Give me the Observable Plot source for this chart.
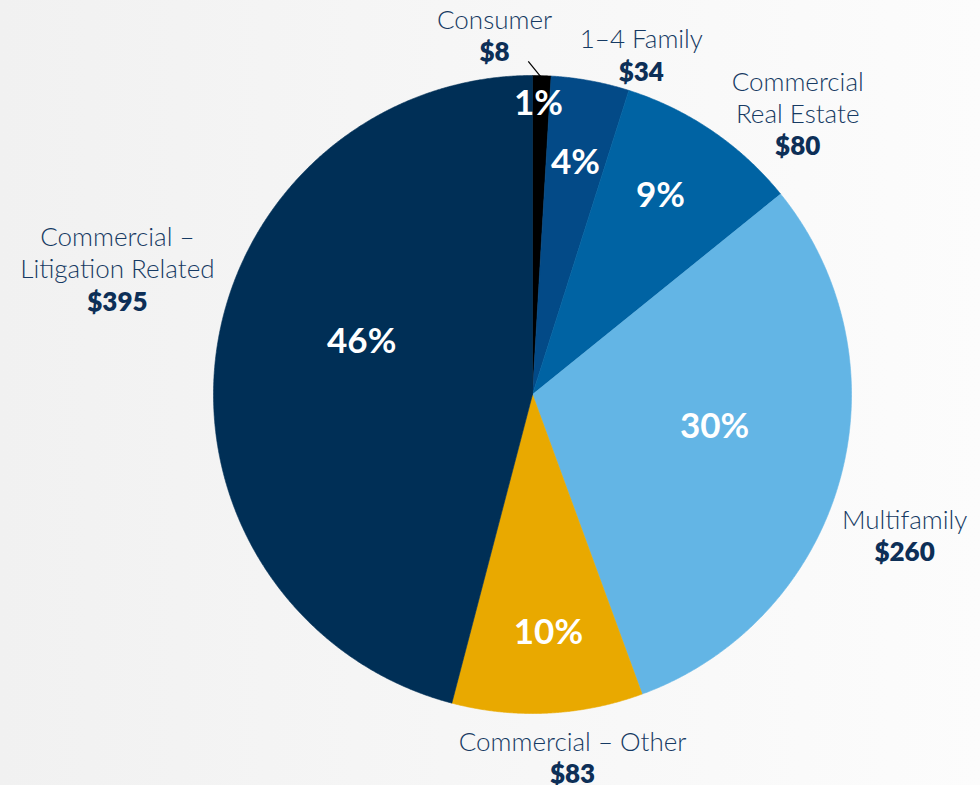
<!DOCTYPE html>
<html><head><meta charset="utf-8">
<script src="https://cdn.jsdelivr.net/npm/d3@7"></script>
<script src="https://cdn.jsdelivr.net/npm/@observablehq/plot@0.6"></script>
<style>
html,body{margin:0;padding:0;}
body{width:980px;height:785px;background:linear-gradient(90deg,#f1f1f1 0%,#fcfcfc 100%);overflow:hidden;}
#chart svg{display:block;background:transparent;}
</style></head><body><div id="chart"></div>
<script>
// ---- data ----
const categories = ["Consumer","1–4 Family","Commercial Real Estate","Multifamily","Commercial – Other","Commercial – Litigation Related"];
const nameLines = ["Consumer","1–4 Family","Commercial\nReal Estate","Multifamily","Commercial – Other","Commercial –\nLitigation Related"];
const values = [8,34,80,260,83,395];
const colors = ["#000000","#034a87","#0063a3","#63b5e5","#e9a900","#002f56"];

// ---- label layout (polar: radius fraction, angle shift from slice middle in degrees) ----
const pctRadius = [0.91,0.74,0.74,0.58,0.75,0.56];
const pctAngleShift = [-0.5,0,-1.5,-5.3,-1.1,9.7];
const valRadius = [1.078,1.066,1.138,1.268,1.198,1.333];
const valAngleShift = [-8.0,8.2,12.6,7.6,-3.3,5.2];
const leaderStart = [[0.997,-0.2]]; // [radius, angle shift] for Consumer
const leaderEnd = [[1.044,-2.4]];

const total = d3.sum(values);
const cum = d3.cumsum(values);
const slices = categories.map((c, i) => {
  const start = (cum[i] - values[i]) / total * 360;
  const end = cum[i] / total * 360;
  return {category: c, name: nameLines[i], value: values[i], color: colors[i], start, end, mid: (start + end) / 2, i};
});
const rad = a => a * Math.PI / 180;
const polar = (r, a) => [r * Math.sin(rad(a)), r * Math.cos(rad(a))];

// slice polygons
const pts = [];
for (const s of slices) {
  pts.push({k: s.category, color: s.color, x: 0, y: 0});
  const n = Math.max(2, Math.ceil((s.end - s.start) / 0.25));
  for (let j = 0; j <= n; j++) {
    const a = s.start + (s.end - s.start) * j / n;
    const [x, y] = polar(1, a);
    pts.push({k: s.category, color: s.color, x, y});
  }
  pts.push({k: s.category, color: s.color, x: 0, y: 0});
}

const pctLabels = slices.map(s => {
  const [x, y] = polar(pctRadius[s.i], s.mid + pctAngleShift[s.i]);
  return {x, y, text: Math.round(s.value / total * 100) + "%"};
});
const outLabels = slices.map(s => {
  const [x, y] = polar(valRadius[s.i], s.mid + valAngleShift[s.i]);
  return {x, y, name: s.name, val: "$" + s.value};
});
const leaders = leaderStart.map((st, i) => {
  const s = slices[i];
  const [x1, y1] = polar(st[0], s.mid + st[1]);
  const [x2, y2] = polar(leaderEnd[i][0], s.mid + leaderEnd[i][1]);
  return {x1, y1, x2, y2};
});

const W = 980, H = 785, cx = 532, cy = 394, R = 319;
const font = "Lato, 'Open Sans', sans-serif";
const chart = Plot.plot({
  width: W, height: H,
  margin: 0,
  x: {domain: [-cx / R, (W - cx) / R], range: [0, W], axis: null},
  y: {domain: [-(H - cy) / R, cy / R], range: [H, 0], axis: null},
  color: {type: "identity"},
  style: {fontFamily: font, background: "transparent", overflow: "visible"},
  marks: [
    Plot.line(pts, {x: "x", y: "y", z: "k", fill: "color", stroke: "color", strokeWidth: 0.6}),
    Plot.link(leaders, {x1: "x1", y1: "y1", x2: "x2", y2: "y2", stroke: "#000", strokeWidth: 1.2}),
    Plot.text(pctLabels, {x: "x", y: "y", text: "text", fill: "white", fontSize: 35, fontWeight: 700, fontFamily: font}),
    Plot.text(outLabels, {x: "x", y: "y", text: "name", fill: "#163a63", fontSize: 26, fontWeight: 300, fontFamily: font, lineAnchor: "bottom", lineHeight: 1.23, dy: -24}),
    Plot.text(outLabels, {x: "x", y: "y", text: "val", fill: "#0d2f57", fontSize: 26, fontWeight: 800, fontFamily: font})
  ]
});
document.getElementById("chart").appendChild(chart);
</script></body></html>
